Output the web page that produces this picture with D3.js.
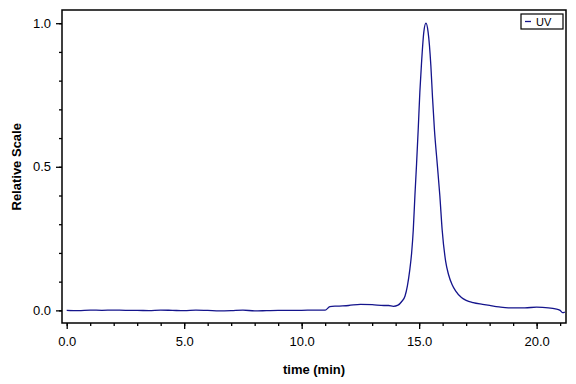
<!DOCTYPE html>
<html>
<head>
<meta charset="utf-8">
<script src="https://cdn.jsdelivr.net/npm/d3@7"></script>
<style>
  body { margin: 0; background: #fff; }
  svg { display: block; }
  .tick text { font-family: "Liberation Sans", Arial, sans-serif; font-size: 13px; fill: #000; }
</style>
</head>
<body>
<div id="chart"></div>
<script>
// chromatogram trace, time in minutes vs relative signal
var times = [0.0, 0.5, 1.0, 1.5, 2.0, 2.5, 3.0, 3.5, 4.0, 4.5, 5.0, 5.5, 6.0, 6.5, 7.0, 7.5,
  8.0, 8.5, 9.0, 9.5, 10.0, 10.5, 11.0, 11.2, 11.5, 12.0, 12.5, 13.0, 13.5, 13.7, 13.9,
  14.1, 14.25, 14.4, 14.5, 14.6, 14.68, 14.75, 14.82, 14.89, 14.96, 15.03, 15.1, 15.2,
  15.29, 15.38, 15.5, 15.57, 15.65, 15.77, 15.88, 15.98, 16.13, 16.25, 16.4, 16.55, 16.8,
  17.0, 17.3, 17.7, 18.0, 18.4, 18.8, 19.5, 20.0, 20.5, 20.85, 21.0, 21.1, 21.2];
var signal = [0.0, -0.001, 0.001, 0.0, 0.001, 0.0, 0.0, -0.001, 0.001, 0.0, -0.001, 0.001,
  0.0, -0.002, -0.001, 0.001, -0.002, -0.001, 0.0, 0.0, 0.0, 0.001, 0.001, 0.013, 0.015,
  0.017, 0.021, 0.020, 0.017, 0.017, 0.014, 0.018, 0.03, 0.05, 0.085, 0.14, 0.20, 0.28,
  0.40, 0.51, 0.63, 0.76, 0.86, 0.97, 1.0, 0.97, 0.85, 0.74, 0.63, 0.51, 0.40, 0.28,
  0.17, 0.125, 0.09, 0.068, 0.045, 0.035, 0.027, 0.021, 0.017, 0.012, 0.009, 0.009, 0.011,
  0.009, 0.004, 0.0, -0.008, -0.006];
var xTicks = [0, 5, 10, 15, 20];
var yTicks = [0, 0.5, 1.0];
var seriesName = "UV";

var width = 576, height = 384;
var margin = {top: 10, right: 10, bottom: 61, left: 62};
var w = width - margin.left - margin.right,
    h = height - margin.top - margin.bottom;

var data = times.map(function(t, i) { return {x: t, y: signal[i]}; });

var x = d3.scaleLinear().domain([-0.2, 21.25]).range([0, w]);
var y = d3.scaleLinear().domain([-0.044, 1.046]).range([h, 0]);

var svg = d3.select("#chart").append("svg")
    .attr("width", width)
    .attr("height", height);

var g = svg.append("g")
    .attr("transform", "translate(" + margin.left + "," + margin.top + ")");

// minor ticks first, then labelled majors
g.append("g")
    .attr("class", "x minor")
    .attr("transform", "translate(0," + h + ")")
    .call(d3.axisBottom(x).tickValues(d3.range(0, 22, 1)).tickSize(3).tickFormat(""))
    .call(function(s) { s.select(".domain").remove(); });

g.append("g")
    .attr("class", "x axis")
    .attr("transform", "translate(0," + h + ")")
    .call(d3.axisBottom(x).tickValues(xTicks).tickSize(6).tickPadding(8).tickFormat(d3.format(".1f")))
    .call(function(s) { s.select(".domain").remove(); });

g.append("g")
    .attr("class", "y minor")
    .call(d3.axisLeft(y).tickValues(d3.range(0, 1.01, 0.1)).tickSize(3).tickFormat(""))
    .call(function(s) { s.select(".domain").remove(); });

g.append("g")
    .attr("class", "y axis")
    .call(d3.axisLeft(y).tickValues(yTicks).tickSize(6).tickPadding(5).tickFormat(d3.format(".1f")))
    .call(function(s) { s.select(".domain").remove(); });

g.selectAll(".tick line").attr("stroke", "#000").attr("stroke-width", 1.3);

// plot frame
g.append("rect")
    .attr("x", 0).attr("y", 0)
    .attr("width", w).attr("height", h)
    .attr("fill", "none")
    .attr("stroke", "#000")
    .attr("stroke-width", 1.5);

var line = d3.line()
    .x(function(d) { return x(d.x); })
    .y(function(d) { return y(d.y); })
    .curve(d3.curveMonotoneX);

g.append("path")
    .datum(data)
    .attr("fill", "none")
    .attr("stroke", "#14148c")
    .attr("stroke-width", 1.3)
    .attr("d", line);

// legend
var leg = g.append("g").attr("transform", "translate(" + (w - 45) + ",4)");
leg.append("rect")
    .attr("width", 42).attr("height", 15)
    .attr("fill", "#fff").attr("stroke", "#000").attr("stroke-width", 1.2);
leg.append("line")
    .attr("x1", 4).attr("x2", 10).attr("y1", 7.5).attr("y2", 7.5)
    .attr("stroke", "#14148c").attr("stroke-width", 1.3);
leg.append("text")
    .attr("x", 15).attr("y", 11.5)
    .style("font-family", "Liberation Sans, Arial, sans-serif")
    .style("font-size", "11px")
    .text(seriesName);

// axis titles
svg.append("text")
    .attr("x", margin.left + w / 2)
    .attr("y", 374)
    .attr("text-anchor", "middle")
    .style("font-family", "Liberation Sans, Arial, sans-serif")
    .style("font-weight", "bold")
    .style("font-size", "13px")
    .text("time (min)");

svg.append("text")
    .attr("transform", "translate(21," + (margin.top + y(0.5)) + ") rotate(-90)")
    .attr("text-anchor", "middle")
    .style("font-family", "Liberation Sans, Arial, sans-serif")
    .style("font-weight", "bold")
    .style("font-size", "13px")
    .text("Relative Scale");
</script>
</body>
</html>
